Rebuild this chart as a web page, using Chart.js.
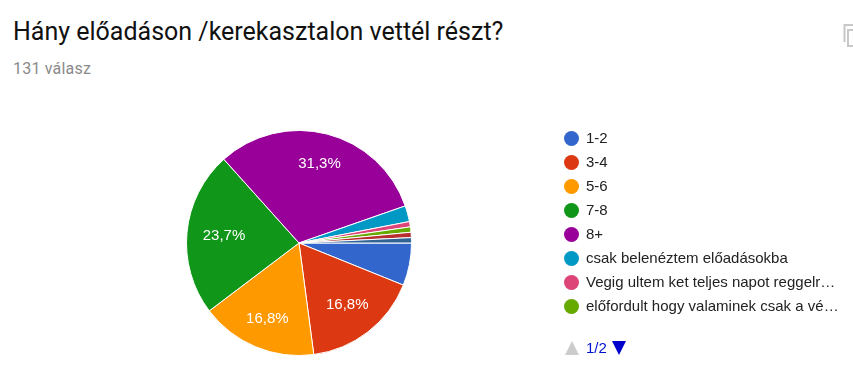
<!DOCTYPE html>
<html lang="hu">

<head>
    <meta charset="UTF-8">
    <title>Hány előadáson /kerekasztalon vettél részt?</title>
    <script src="https://cdn.jsdelivr.net/npm/chart.js"></script>
    <style>
        body { margin: 0; width: 853px; height: 376px; background: #fff; position: relative; overflow: hidden; }
        canvas { position: absolute; left: 0; top: 0; }
        .abs { position: absolute; white-space: nowrap; }
        #title { left: 13px; top: 17px; font: 25px Roboto, sans-serif; color: #111; }
        #subtitle { left: 13px; top: 59px; font: 16px Roboto, sans-serif; color: #8a8a8a; letter-spacing: 0.2px; }
        #legend div.dot { position: absolute; width: 15px; height: 15px; border-radius: 50%; left: 564px; }
        #legend div.txt { position: absolute; left: 586px; font: 15px "Liberation Sans", Arial, sans-serif; color: #222; white-space: nowrap; }
    </style>
</head>

<body>
    <div id="title" class="abs">Hány előadáson /kerekasztalon vettél részt?</div>
    <div id="subtitle" class="abs">131 válasz</div>
    <canvas id="pieChart" width="853" height="376"></canvas>
    <div id="legend"></div>

    <!-- copy icon top right -->
    <svg class="abs" style="left:840px;top:22px" width="13" height="27">
        <path d="M4.5 20 V3 H13" fill="none" stroke="#c8c8c8" stroke-width="2"/>
        <rect x="8" y="8" width="10" height="16" fill="none" stroke="#c8c8c8" stroke-width="2"/>
    </svg>

    <!-- legend pager -->
    <svg class="abs" style="left:564px;top:340px" width="16" height="16"><path d="M8 1 L15 15 H1 Z" fill="#cccccc"/></svg>
    <div class="abs" style="left:586px;top:339px;font:15px 'Liberation Sans',Arial,sans-serif;color:#0011cc">1/2</div>
    <svg class="abs" style="left:611px;top:340px" width="16" height="16"><path d="M1 1 H15 L8 15 Z" fill="#0000cc"/></svg>

    <script>
        const categories = ['1-2', '3-4', '5-6', '7-8', '8+', 'csak belenéztem előadásokba',
            'Vegig ultem ket teljes napot reggelr…', 'előfordult hogy valaminek csak a vé…', 'egyéb', 'egyéb 2'];
        const answers = [8, 22, 22, 31, 41, 3, 1, 1, 1, 1];
        const colors = ['#3366cc', '#dc3912', '#ff9900', '#109618', '#990099', '#0099c6', '#dd4477', '#66aa00', '#b82e2e', '#316395'];
        const legendPageSize = 8;

        // How far out each percent label sits, as a share of the radius
        const labelOffsets = { 1: 0.7, 2: 0.73, 3: 0.67, 4: 0.73 };

        // Percent labels inside the big slices, Google chart style
        const sliceLabels = {
            id: 'sliceLabels',
            afterDatasetsDraw(chart) {
                const ctx = chart.ctx;
                const total = answers.reduce((a, b) => a + b, 0);
                ctx.save();
                ctx.font = '15px "Liberation Sans", Arial, sans-serif';
                ctx.fillStyle = '#fff';
                ctx.textAlign = 'center';
                ctx.textBaseline = 'middle';
                chart.getDatasetMeta(0).data.forEach((arc, i) => {
                    const share = answers[i] / total * 100;
                    if (share < 10) return;
                    const p = arc.getProps(['x', 'y', 'startAngle', 'endAngle', 'outerRadius']);
                    const mid = (p.startAngle + p.endAngle) / 2;
                    const r = p.outerRadius * labelOffsets[i];
                    ctx.fillText(share.toFixed(1).replace('.', ',') + '%', p.x + Math.cos(mid) * r, p.y + Math.sin(mid) * r);
                });
                ctx.restore();
            }
        };

        new Chart(document.getElementById('pieChart'), {
            type: 'pie',
            data: {
                labels: categories,
                datasets: [{
                    data: answers,
                    backgroundColor: colors,
                    borderColor: '#fff',
                    borderWidth: 1
                }]
            },
            options: {
                responsive: false,
                animation: false,
                rotation: 90,
                layout: { padding: { left: 186, top: 130, right: 441, bottom: 20 } },
                plugins: { legend: { display: false }, tooltip: { enabled: false } }
            },
            plugins: [sliceLabels]
        });

        // Legend, first page only
        const legend = document.getElementById('legend');
        categories.slice(0, legendPageSize).forEach((name, i) => {
            const y = 138 + i * 24;
            const dot = document.createElement('div');
            dot.className = 'dot';
            dot.style.top = (y - 7.5) + 'px';
            dot.style.background = colors[i];
            const txt = document.createElement('div');
            txt.className = 'txt';
            txt.style.top = (y - 9) + 'px';
            txt.textContent = name;
            legend.append(dot, txt);
        });
    </script>
</body>

</html>
